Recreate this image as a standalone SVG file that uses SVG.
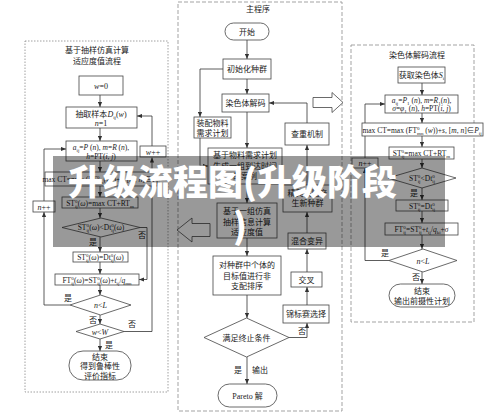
<svg xmlns="http://www.w3.org/2000/svg" width="500" height="414" viewBox="0 0 500 414">
<defs>
<marker id="ah" viewBox="0 0 6 6" refX="6" refY="3" markerWidth="5" markerHeight="5" orient="auto" markerUnits="userSpaceOnUse">
<path d="M0,0.5 L6,3 L0,5.5 z" fill="#333"/>
</marker>
<style>
.t{font-family:"Liberation Serif","Noto Sans CJK SC",serif;font-size:8px;fill:#222;text-anchor:middle}
.f{font-size:7.5px}
.s{font-size:5px}
.b{fill:#fff;stroke:#444;stroke-width:0.8}
.c{fill:none;stroke:#333;stroke-width:0.8}
.a{fill:none;stroke:#333;stroke-width:0.8;marker-end:url(#ah)}
.d1{fill:none;stroke:#888;stroke-width:0.8;stroke-dasharray:1.5 1.5}
.d2{fill:none;stroke:#999;stroke-width:0.9;stroke-dasharray:4 2}
.h{fill:#fff;stroke:#444;stroke-width:0.8}
.bt{font-family:"Noto Sans CJK SC",sans-serif;font-weight:900;font-size:35px;fill:#fff}
</style>
</defs>
<rect width="500" height="414" fill="#fff"/>

<!-- panels -->
<g id="panel-left"><rect class="d1" x="25" y="41" width="143" height="351"/>
<text class="t" x="97" y="53">基于抽样仿真计算</text><text class="t" x="97" y="64">适应度值流程</text></g>
<g id="panel-main"><rect class="d2" x="178" y="2" width="164" height="409"/>
<text class="t" x="258" y="12">主程序</text></g>
<g id="panel-right"><rect class="d2" x="351" y="45" width="123" height="277"/>
<text class="t" x="417" y="58">染色体解码流程</text></g>

<!-- connectors -->
<g id="connectors">
<line class="a" x1="100" y1="95" x2="100" y2="107"/>
<line class="a" x1="100" y1="128" x2="100" y2="141"/>
<line class="a" x1="100" y1="161" x2="100" y2="172"/>
<line class="a" x1="100" y1="186" x2="100" y2="197"/>
<line class="a" x1="100" y1="208" x2="100" y2="218"/>
<line class="a" x1="100" y1="237" x2="100" y2="252"/>
<line class="a" x1="100" y1="262" x2="100" y2="274"/>
<line class="a" x1="100" y1="285" x2="100" y2="295"/>
<line class="a" x1="100" y1="315" x2="100" y2="324"/>
<line class="a" x1="100" y1="339" x2="100" y2="351"/>
<polyline class="a" points="124,331.5 152,331.5 152,157.5"/>
<polyline class="a" points="152,146 152,116 137,116"/>
<polyline class="a" points="70,305 44,305 44,212"/>
<polyline class="a" points="44,201 44,149 66,149"/>
<polyline class="a" points="140,227.5 147,227.5 147,279.5 139,279.5"/>
<line class="a" x1="247" y1="40" x2="247" y2="59"/>
<line class="a" x1="247" y1="79" x2="247" y2="94"/>
<line class="a" x1="247" y1="112" x2="247" y2="148"/>
<line class="a" x1="247" y1="184" x2="247" y2="203"/>
<line class="a" x1="247" y1="238" x2="247" y2="256"/>
<line class="a" x1="247" y1="295" x2="247" y2="318"/>
<line class="a" x1="247" y1="357" x2="247" y2="384"/>
<polyline class="a" points="223,69 200,69 200,117"/>
<polyline class="a" points="200,138 200,166 208,166"/>
<polyline class="a" points="289,337.5 307,337.5 307,323"/>
<line class="a" x1="307" y1="305" x2="307" y2="287"/>
<line class="a" x1="307" y1="272" x2="307" y2="249"/>
<line class="a" x1="307" y1="233" x2="307" y2="212"/>
<line class="a" x1="307" y1="185" x2="307" y2="145"/>
<polyline class="a" points="307,123 307,103 269,103"/>
<line class="a" x1="422" y1="83" x2="422" y2="95"/>
<line class="a" x1="422" y1="113" x2="422" y2="123"/>
<line class="a" x1="422" y1="136" x2="422" y2="147"/>
<line class="a" x1="422" y1="159" x2="422" y2="168"/>
<line class="a" x1="422" y1="188" x2="422" y2="200"/>
<line class="a" x1="422" y1="211" x2="422" y2="223"/>
<line class="a" x1="422" y1="235" x2="422" y2="249"/>
<line class="a" x1="422" y1="272" x2="422" y2="284"/>
<polyline class="a" points="389,260.5 365,260.5 365,168"/>
<polyline class="a" points="365,158 365,104 385,104"/>
<text class="t" x="93" y="245">是</text>
<text class="t" x="142" y="238">否</text>
<text class="t" x="68" y="301">是</text>
<text class="t" x="93" y="323">否</text>
<text class="t" x="132" y="327">否</text>
<text class="t" x="109" y="348">是</text>
<text class="t" x="302" y="334">否</text>
<text class="t" x="238" y="373">是</text>
<text class="t" x="260" y="373">输出</text>
<text class="t" x="414" y="196">是</text>
<text class="t" x="385" y="256">是</text>
<text class="t" x="416" y="280">否</text>
</g>

<!-- left nodes -->
<g id="l-w0"><rect class="b" x="79" y="76" width="44" height="19"/><text class="t" x="101" y="88.5"><tspan font-style="italic">w</tspan>=0</text></g>
<g id="l-sample"><rect class="b" x="66" y="107" width="71" height="21"/><text class="t" x="101" y="116.5">抽取样本<tspan font-style="italic">D</tspan><tspan class="s" dy="2">ij</tspan><tspan dy="-2">(</tspan><tspan font-style="italic">w</tspan>)</text><text class="t" x="101" y="126"><tspan font-style="italic">n</tspan>=1</text></g>
<g id="l-assign"><rect class="b" x="66" y="141" width="71" height="20"/><text class="t f" x="101" y="150"><tspan font-style="italic">a</tspan><tspan class="s" dy="2">ij</tspan><tspan dy="-2">=</tspan><tspan font-style="italic">P</tspan> (<tspan font-style="italic">n</tspan>), <tspan font-style="italic">m</tspan>=<tspan font-style="italic">R</tspan> (<tspan font-style="italic">n</tspan>),</text><text class="t f" x="101" y="159"><tspan font-style="italic">h</tspan>=PT(<tspan font-style="italic">i</tspan>, <tspan font-style="italic">j</tspan>)</text></g>
<g id="l-wpp"><rect class="b" x="140" y="146" width="26" height="11"/><text class="t" x="153" y="154.5"><tspan font-style="italic">w</tspan>++</text></g>
<g id="l-maxct"><rect class="b" x="45" y="172" width="112" height="14"/><text class="t f" x="101" y="182">max CT=max (FT<tspan class="s" dy="-3">0</tspan><tspan class="s" dx="-2.5" dy="5">mn</tspan><tspan dy="-2">(</tspan><tspan font-style="italic">w</tspan>))+<tspan font-style="italic">s</tspan>, [<tspan font-style="italic">m</tspan>, <tspan font-style="italic">n</tspan>]∈<tspan font-style="italic">P</tspan><tspan class="s" dy="2">ij</tspan></text></g>
<g id="l-st"><rect class="b" x="62" y="197" width="76" height="11"/><text class="t f" x="100" y="205.5">ST<tspan class="s" dy="-3">0</tspan><tspan class="s" dx="-2.5" dy="5">ij</tspan><tspan dy="-2">(</tspan><tspan font-style="italic">ω</tspan>)=max CT+RT<tspan class="s" dy="2">m</tspan></text></g>
<g id="l-npp"><rect class="b" x="33" y="201" width="22" height="11"/><text class="t" x="44" y="209.5"><tspan font-style="italic">n</tspan>++</text></g>
<g id="l-cmp"><polygon class="b" points="62,227.5 101,218 140,227.5 101,237"/><text class="t f" x="101" y="230">ST<tspan class="s" dy="-3">0</tspan><tspan class="s" dx="-2.5" dy="5">ij</tspan><tspan dy="-2">(</tspan><tspan font-style="italic">ω</tspan>)&lt;Dt<tspan class="s" dy="-3">0</tspan><tspan class="s" dx="-2.5" dy="5">ij</tspan><tspan dy="-2">(</tspan><tspan font-style="italic">ω</tspan>)</text></g>
<g id="l-st2"><rect class="b" x="73" y="252" width="55" height="10"/><text class="t f" x="100.5" y="260">ST<tspan class="s" dy="-3">0</tspan><tspan class="s" dx="-2.5" dy="5">ij</tspan><tspan dy="-2">(</tspan><tspan font-style="italic">ω</tspan>)=Dt<tspan class="s" dy="-3">0</tspan><tspan class="s" dx="-2.5" dy="5">ij</tspan><tspan dy="-2">(</tspan><tspan font-style="italic">ω</tspan>)</text></g>
<g id="l-ft"><rect class="b" x="55" y="274" width="84" height="11"/><text class="t f" x="97" y="282.5">FT<tspan class="s" dy="-3">0</tspan><tspan class="s" dx="-2.5" dy="5">ij</tspan><tspan dy="-2">(</tspan><tspan font-style="italic">ω</tspan>)=ST<tspan class="s" dy="-3">0</tspan><tspan class="s" dx="-2.5" dy="5">ij</tspan><tspan dy="-2">(</tspan><tspan font-style="italic">ω</tspan>)+<tspan font-style="italic">t</tspan><tspan class="s" dy="2">ij</tspan><tspan dy="-2">/</tspan><tspan font-style="italic">q</tspan><tspan class="s" dy="2">mn</tspan></text></g>
<g id="l-nl"><polygon class="b" points="70,305 100.5,295 131,305 100.5,315"/><text class="t" x="100.5" y="308"><tspan font-style="italic">n</tspan>&lt;<tspan font-style="italic">L</tspan></text></g>
<g id="l-ww"><polygon class="b" points="76,331.5 100,324 124,331.5 100,339"/><text class="t" x="100" y="334.5"><tspan font-style="italic">w</tspan>&lt;<tspan font-style="italic">W</tspan></text></g>
<g id="l-end"><rect class="b" x="69" y="351" width="62" height="29" rx="14" ry="14"/><text class="t" x="100" y="359.5">结束</text><text class="t" x="100" y="369">得到鲁棒性</text><text class="t" x="100" y="378.5">评价指标</text></g>

<!-- main nodes -->
<g id="m-start"><rect class="b" x="225" y="23" width="44" height="17" rx="8.5"/><text class="t" x="247" y="34.5">开始</text></g>
<g id="m-init"><rect class="b" x="223" y="59" width="48" height="20"/><text class="t" x="247" y="72">初始化种群</text></g>
<g id="m-decode"><rect class="b" x="222" y="94" width="47" height="18"/><text class="t" x="245.5" y="106">染色体解码</text></g>
<g id="m-mrp"><rect class="b" x="194" y="117" width="37" height="21"/><text class="t" x="212.5" y="126">装配物料</text><text class="t" x="212.5" y="135.5">需求计划</text></g>
<g id="m-dup"><rect class="b" x="285" y="123" width="44" height="22"/><text class="t" x="307" y="137">查重机制</text></g>
<g id="m-gen"><rect class="b" x="208" y="148" width="74" height="36"/><text class="t" x="245" y="158">基于物料需求计划</text><text class="t" x="245" y="168.5">生成一组到达时间</text><text class="t" x="245" y="179">的案例</text></g>
<g id="m-fit"><rect class="b" x="217" y="203" width="60" height="35"/><text class="t" x="247" y="214">基于一组仿真</text><text class="t" x="247" y="224.5">抽样信息计算</text><text class="t" x="247" y="235">适应度值</text></g>
<g id="m-sort"><rect class="b" x="213" y="256" width="68" height="39"/><text class="t" x="247" y="268">对种群中个体的</text><text class="t" x="247" y="278.5">目标值进行非</text><text class="t" x="247" y="289">支配排序</text></g>
<g id="m-term"><polygon class="b" points="204,337.5 246.5,318 289,337.5 246.5,357"/><text class="t" x="246.5" y="340.5">满足终止条件</text></g>
<g id="m-pareto"><rect class="b" x="218" y="384" width="59" height="23" rx="11.5"/><text class="t" x="247.5" y="398.5">Pareto 解</text></g>
<g id="m-sel"><rect class="b" x="283" y="305" width="46" height="18"/><text class="t" x="306" y="317">锦标赛选择</text></g>
<g id="m-cross"><rect class="b" x="291" y="272" width="31" height="15"/><text class="t" x="306.5" y="282.5">交叉</text></g>
<g id="m-mut"><rect class="b" x="288" y="233" width="38" height="16"/><text class="t" x="307" y="244">混合变异</text></g>
<g id="m-elite"><rect class="b" x="283" y="185" width="49" height="27"/><text class="t" x="307.5" y="196">精英策略产</text><text class="t" x="307.5" y="206">生新种群</text></g>
<g id="m-arrow-r"><polygon class="h" points="313,97.5 332,97.5 332,92.5 343,102.5 332,112.5 332,107.5 313,107.5"/></g>
<g id="m-arrow-l"><polygon class="h" points="210,223.5 192,223.5 192,218 177,230 192,242 192,236.5 210,236.5"/></g>

<!-- right nodes -->
<g id="r-get"><rect class="b" x="398" y="67" width="47" height="16"/><text class="t" x="421.5" y="78">获取染色体<tspan font-style="italic">S</tspan><tspan class="s" dy="2">i</tspan></text></g>
<g id="r-assign"><rect class="b" x="385" y="95" width="73" height="18"/><text class="t f" x="421.5" y="103"><tspan font-style="italic">a</tspan><tspan class="s" dy="2">ij</tspan><tspan dy="-2">=</tspan><tspan font-style="italic">P</tspan><tspan class="s" dy="2">1</tspan><tspan dy="-2"> (</tspan><tspan font-style="italic">n</tspan>), <tspan font-style="italic">m</tspan>=<tspan font-style="italic">R</tspan><tspan class="s" dy="2">1</tspan><tspan dy="-2">(</tspan><tspan font-style="italic">n</tspan>),</text><text class="t f" x="421.5" y="111"><tspan font-style="italic">σ</tspan>=<tspan font-style="italic">φ</tspan><tspan class="s" dy="2">1</tspan><tspan dy="-2"> (</tspan><tspan font-style="italic">n</tspan>), <tspan font-style="italic">h</tspan>=PT(<tspan font-style="italic">i</tspan>, <tspan font-style="italic">j</tspan>)</text></g>
<g id="r-maxct"><rect class="b" x="362" y="123" width="121" height="13"/><text class="t f" x="422" y="132.5">max CT=max (FT<tspan class="s" dy="-3">0</tspan><tspan class="s" dx="-2.5" dy="5">mn</tspan><tspan dy="-2"> (</tspan><tspan font-style="italic">w</tspan>))+<tspan font-style="italic">s</tspan>, [<tspan font-style="italic">m</tspan>, <tspan font-style="italic">n</tspan>]∈<tspan font-style="italic">P</tspan><tspan class="s" dy="2">ij</tspan></text></g>
<g id="r-st"><rect class="b" x="389" y="147" width="65" height="12"/><text class="t f" x="421.5" y="156">ST<tspan class="s" dy="-3">0</tspan><tspan class="s" dx="-2.5" dy="5">ij</tspan><tspan dy="-2">=max CT+RT</tspan><tspan class="s" dy="2">m</tspan></text></g>
<g id="r-npp"><rect class="b" x="352" y="158" width="26" height="10"/><text class="t" x="365" y="166"><tspan font-style="italic">n</tspan>++</text></g>
<g id="r-cmp"><polygon class="b" points="388,178 422,168 456,178 422,188"/><text class="t f" x="422" y="181">ST<tspan class="s" dy="-3">0</tspan><tspan class="s" dx="-2.5" dy="5">ij</tspan><tspan dy="-2">&lt;Dt</tspan><tspan class="s" dy="-3">0</tspan><tspan class="s" dx="-2.5" dy="5">ij</tspan></text></g>
<g id="r-st2"><rect class="b" x="396" y="200" width="52" height="11"/><text class="t f" x="422" y="208.5">ST<tspan class="s" dy="-3">0</tspan><tspan class="s" dx="-2.5" dy="5">ij</tspan><tspan dy="-2">=Dt</tspan><tspan class="s" dy="-3">0</tspan><tspan class="s" dx="-2.5" dy="5">ij</tspan></text></g>
<g id="r-ft"><rect class="b" x="385" y="223" width="73" height="12"/><text class="t f" x="421.5" y="232">FT<tspan class="s" dy="-3">0</tspan><tspan class="s" dx="-2.5" dy="5">ij</tspan><tspan dy="-2">=ST</tspan><tspan class="s" dy="-3">0</tspan><tspan class="s" dx="-2.5" dy="5">ij</tspan><tspan dy="-2">+</tspan><tspan font-style="italic">t</tspan><tspan class="s" dy="2">ij</tspan><tspan dy="-2">/</tspan><tspan font-style="italic">q</tspan><tspan class="s" dy="2">ki</tspan><tspan dy="-2">+</tspan><tspan font-style="italic">σ</tspan></text></g>
<g id="r-nl"><polygon class="b" points="389,260.5 423,249 457,260.5 423,272"/><text class="t" x="423" y="263.5"><tspan font-style="italic">n</tspan>&lt;<tspan font-style="italic">L</tspan></text></g>
<g id="r-end"><rect class="b" x="389" y="284" width="66" height="23" rx="11.5"/><text class="t" x="422" y="293.5">结束</text><text class="t" x="422" y="303.5">输出前摄性计划</text></g>

<!-- overlay banner -->
<g id="banner">
<rect x="53" y="156" width="392" height="91" fill="#000" fill-opacity="0.4"/>
<text class="bt" x="68" y="195">升级流程图(升级阶段</text>
<text class="bt" x="233" y="239">)</text>
</g>
</svg>
